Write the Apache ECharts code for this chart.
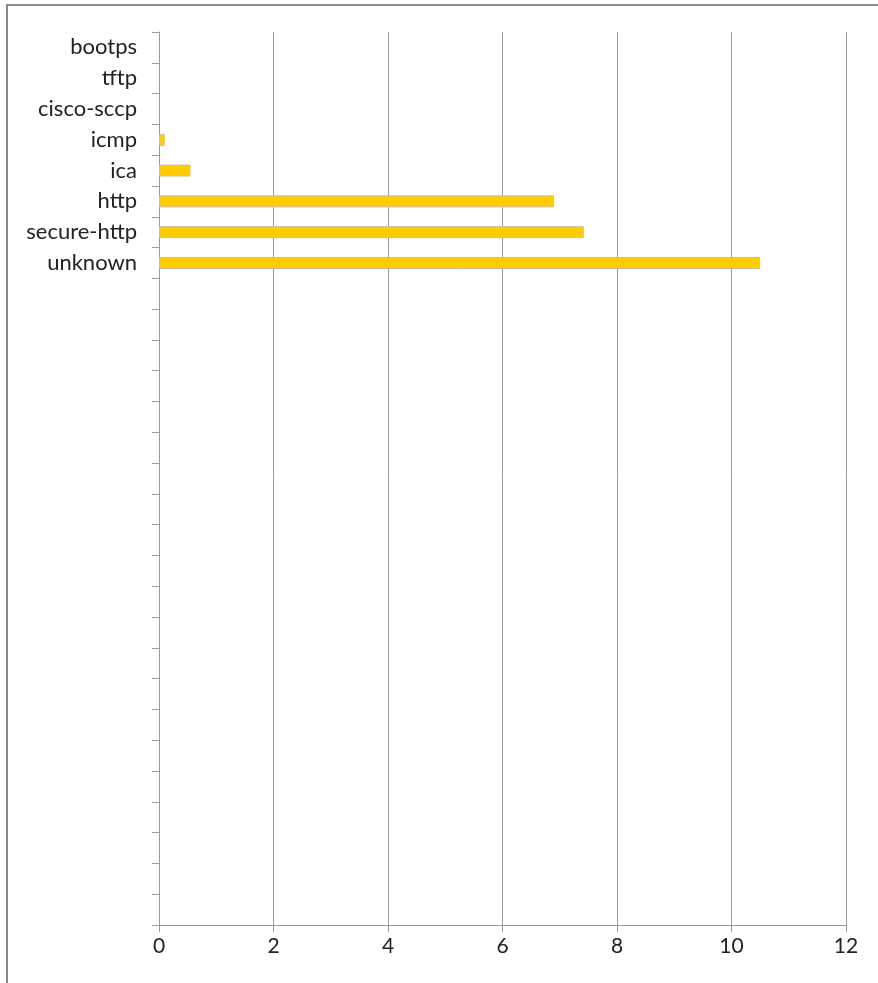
<!DOCTYPE html>
<html>
<head>
<meta charset="utf-8">
<script src="https://cdn.jsdelivr.net/npm/echarts@6/dist/echarts.min.js"></script>
<style>
html,body{margin:0;padding:0;background:#fff;}
#main{width:878px;height:983px;}
</style>
</head>
<body>
<div id="main"></div>
<script>
var categories = ['bootps','tftp','cisco-sccp','icmp','ica','http','secure-http','unknown',
  '','','','','','','','','','','','','','','','','','','','',''];
var values = [0, 0, 0, 0.1, 0.55, 6.9, 7.42, 10.5];
var xTicks = { min: 0, max: 12, interval: 2 };

var seriesData = values.map(function (v) {
  return v === 0 ? { value: v, itemStyle: { borderWidth: 0, opacity: 0 } } : v;
});

var chart = echarts.init(document.getElementById('main'));
chart.setOption({
  animation: false,
  backgroundColor: '#ffffff',
  graphic: [{
    type: 'rect',
    shape: { x: 7, y: 5, width: 1000, height: 1100 },
    style: { fill: 'none', stroke: '#8a8a8a', lineWidth: 2 },
    silent: true
  }],
  grid: { left: 159, right: 32, top: 32, bottom: 58, containLabel: false },
  xAxis: {
    type: 'value',
    min: xTicks.min, max: xTicks.max, interval: xTicks.interval,
    axisLine: { show: true, lineStyle: { color: '#9a9a9a', width: 1 } },
    axisTick: { show: true, length: 7, lineStyle: { color: '#9a9a9a' } },
    splitLine: { show: true, lineStyle: { color: '#9a9a9a', width: 1 } },
    axisLabel: { color: '#222', fontSize: 21, fontFamily: 'Lato, Open Sans, sans-serif', margin: 11 }
  },
  yAxis: {
    type: 'category',
    inverse: true,
    data: categories,
    axisLine: { show: true, lineStyle: { color: '#9a9a9a', width: 1 } },
    axisTick: { show: true, length: 7, lineStyle: { color: '#9a9a9a' } },
    axisLabel: { color: '#222', fontSize: 22, fontFamily: 'Lato, Open Sans, sans-serif', margin: 22, interval: 0 },
    splitLine: { show: false }
  },
  series: [{
    type: 'bar',
    data: seriesData,
    barWidth: 12,
    itemStyle: { color: '#FFCC00', borderColor: '#c8c0a0', borderWidth: 1 }
  }]
});
</script>
</body>
</html>
